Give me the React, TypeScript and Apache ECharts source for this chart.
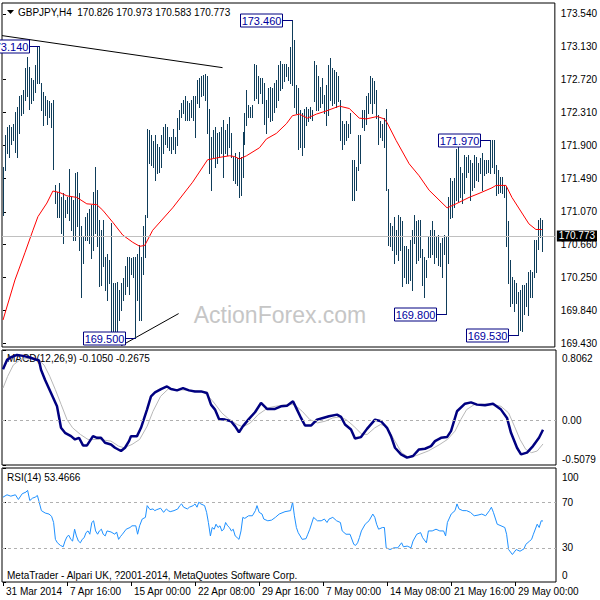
import { useEffect, useRef } from 'react';
import * as echarts from 'echarts';

const FONT = '"Liberation Sans", Arial, sans-serif';

const titleText = 'GBPJPY,H4  170.826 170.973 170.583 170.773';
const macdText = 'MACD(12,26,9) -0.1050 -0.2675';
const rsiText = 'RSI(14) 53.4666';
const footText = 'MetaTrader - Alpari UK, ?2001-2014, MetaQuotes Software Corp.';
const watermark = 'ActionForex.com';
const lastPrice = 170.773;

const barHigh = [
  171.63, 172.03, 172.13, 172.15, 172.13, 172.17, 172.32, 172.38, 172.51, 172.53,
  172.59, 172.86, 173.00, 172.88, 172.74, 172.72, 172.90, 173.14, 173.14, 172.68,
  172.57, 172.51, 172.47, 172.45, 172.43, 172.47, 171.41, 171.32, 171.43, 171.26,
  171.30, 171.22, 171.26, 171.61, 171.26, 171.22, 171.55, 171.57, 171.30, 170.89,
  170.76, 171.01, 171.05, 171.11, 171.16, 171.32, 171.63, 171.34, 170.97, 170.84,
  170.97, 170.51, 170.55, 170.47, 170.93, 170.18, 170.18, 170.20, 170.09, 170.18,
  170.24, 170.39, 170.51, 170.51, 170.49, 170.51, 170.51, 170.55, 170.66, 170.51,
  170.89, 171.03, 172.11, 172.09, 172.03, 171.95, 172.03, 171.92, 171.88, 172.03,
  172.13, 172.17, 172.13, 172.01, 172.01, 172.11, 172.01, 172.24, 172.34, 172.43,
  172.47, 172.51, 172.45, 172.43, 172.47, 172.51, 172.51, 172.72, 172.74, 172.76,
  172.78, 172.79, 172.76, 172.36, 172.01, 172.09, 172.13, 172.05, 172.07, 172.13,
  172.22, 172.09, 172.17, 172.26, 172.05, 171.76, 171.80, 171.74, 171.82, 171.76,
  172.07, 172.30, 172.59, 172.40, 172.38, 172.40, 172.92, 172.90, 172.76, 172.74,
  172.74, 172.68, 172.47, 172.61, 172.63, 172.61, 172.68, 172.72, 172.90, 172.95,
  172.92, 172.92, 172.92, 172.88, 173.13, 173.46, 173.22, 172.65, 172.61, 172.34,
  172.30, 172.36, 172.38, 172.36, 172.38, 172.34, 172.95, 172.90, 172.76, 172.63,
  172.74, 172.53, 172.65, 172.90, 172.99, 172.86, 172.84, 172.82, 172.76, 172.47,
  172.20, 172.17, 172.20, 172.17, 172.30, 171.72, 171.72, 171.63, 172.03, 172.03,
  172.34, 172.34, 172.51, 172.55, 172.76, 172.74, 172.70, 172.59, 172.28, 172.20,
  172.17, 172.24, 172.36, 171.36, 170.93, 170.89, 171.01, 170.84, 171.03, 171.01,
  170.95, 170.64, 170.64, 170.61, 170.72, 170.84, 171.03, 170.95, 170.97, 170.97,
  170.61, 170.51, 170.47, 170.76, 170.84, 170.95, 170.84, 170.76, 170.78, 170.68,
  170.74, 170.78, 170.76, 171.26, 171.49, 171.45, 171.49, 171.86, 171.88, 171.63,
  171.55, 171.78, 171.76, 171.78, 171.72, 171.68, 171.78, 171.76, 171.68, 171.74,
  171.80, 171.72, 171.72, 171.72, 171.97, 171.97, 171.97, 171.66, 171.59, 171.51,
  171.51, 171.41, 171.38, 170.95, 170.47, 170.26, 170.22, 170.18, 170.07, 170.09,
  170.16, 170.16, 170.18, 170.32, 170.34, 170.32, 170.72, 170.72, 170.97, 170.99,
  170.973,
];

const barLow = [
  171.03, 171.59, 171.80, 171.76, 171.92, 171.97, 171.82, 171.76, 172.05, 172.28,
  172.30, 172.47, 172.51, 172.36, 172.43, 172.47, 172.57, 172.68, 172.68, 172.34,
  172.15, 172.28, 172.17, 172.26, 172.13, 171.61, 171.18, 171.01, 171.01, 170.80,
  170.68, 171.01, 171.05, 170.97, 170.84, 170.72, 170.72, 170.89, 170.59, 170.01,
  170.43, 170.72, 170.72, 170.68, 170.49, 170.59, 170.80, 170.64, 170.14, 170.16,
  170.39, 170.09, 169.97, 170.18, 169.56, 169.55, 169.56, 169.57, 169.72, 169.85,
  169.97, 170.05, 170.14, 170.05, 170.30, 170.26, 169.50, 169.97, 169.72, 169.72,
  170.30, 170.51, 171.01, 171.68, 171.66, 171.63, 171.47, 171.55, 171.57, 171.63,
  171.80, 171.92, 171.88, 171.84, 171.80, 171.86, 171.80, 171.90, 172.11, 172.26,
  172.30, 172.22, 172.22, 172.22, 172.26, 172.22, 172.01, 172.43, 172.38, 172.51,
  172.53, 172.47, 172.05, 171.55, 171.34, 171.76, 171.63, 171.68, 171.76, 171.80,
  171.51, 171.80, 171.78, 171.88, 171.76, 171.47, 171.43, 171.41, 171.26, 171.28,
  171.51, 171.92, 172.15, 172.26, 172.26, 172.26, 172.47, 172.49, 172.43, 172.55,
  172.43, 172.17, 172.05, 172.26, 172.20, 172.22, 172.32, 172.38, 172.47, 172.59,
  172.61, 172.70, 172.76, 172.72, 172.68, 172.65, 172.38, 172.30, 171.86, 171.88,
  171.78, 171.88, 172.15, 172.20, 172.24, 172.22, 172.45, 172.34, 172.34, 172.38,
  172.43, 172.30, 172.15, 172.28, 172.47, 172.40, 172.43, 172.38, 172.45, 171.97,
  171.86, 171.92, 171.97, 172.01, 172.05, 171.22, 171.22, 171.34, 171.59, 171.68,
  172.13, 172.09, 172.17, 172.30, 172.43, 172.30, 172.43, 172.24, 171.92, 172.01,
  171.97, 171.88, 171.34, 170.66, 170.64, 170.59, 170.43, 170.55, 170.47, 170.59,
  170.14, 170.26, 170.18, 170.18, 170.22, 170.09, 170.68, 170.43, 170.47, 170.51,
  170.16, 170.01, 170.26, 170.51, 170.51, 170.55, 170.43, 170.51, 170.41, 170.39,
  170.26, 170.55, 169.80, 170.43, 170.99, 171.01, 171.13, 171.22, 171.20, 171.26,
  171.18, 171.30, 171.51, 171.57, 171.22, 171.34, 171.38, 171.47, 171.45, 171.55,
  171.34, 171.53, 171.55, 171.57, 171.55, 171.63, 171.55, 171.28, 171.30, 171.32,
  171.30, 171.26, 170.64, 170.18, 169.89, 169.93, 169.83, 169.93, 169.53, 169.60,
  169.58, 169.80, 169.89, 169.78, 170.01, 170.01, 170.26, 170.32, 170.61, 170.76,
  170.583,
];

const maIdx = [0, 6, 11, 15, 17.5, 22, 25, 28.5, 32, 37, 42, 47, 50, 55, 60, 65, 68.5, 71, 75, 85,
  95, 102.5, 108.5, 113.5, 116, 118.5, 122, 128.5, 132, 137, 142, 145, 148.5, 152.5, 157, 162, 168.5,
  173.5, 178.5, 182, 187.5, 191, 192.5, 197, 203.5, 208.5, 213.5, 222.5, 227, 233.5, 238.5, 245, 247,
  252, 255, 263.5, 267, 270];
const maVal = [169.72, 170.22, 170.56, 170.84, 171.01, 171.18, 171.33, 171.31, 171.27, 171.25, 171.17,
  171.16, 171.09, 170.94, 170.78, 170.69, 170.64, 170.65, 170.84, 171.12, 171.44, 171.72, 171.75,
  171.77, 171.76, 171.73, 171.77, 171.87, 171.98, 172.05, 172.17, 172.27, 172.29, 172.24, 172.29,
  172.33, 172.39, 172.36, 172.24, 172.23, 172.26, 172.23, 172.18, 171.96, 171.67, 171.52, 171.34,
  171.12, 171.17, 171.25, 171.30, 171.37, 171.40, 171.40, 171.25, 170.92, 170.85, 170.85];

const macdIdx = [0, 2, 4, 7, 10, 13, 16, 18, 19, 21, 24, 27, 29, 31, 34, 36, 38, 40, 42, 45,
  47, 49, 51, 54, 56, 59, 61, 63, 64, 67, 69, 72, 74, 76, 79, 82, 84, 87, 90, 93,
  96, 99, 102, 104, 106, 108, 111, 114, 116, 118, 120, 123, 126, 129, 132, 136, 139, 142, 145, 147,
  149, 151, 154, 157, 160, 163, 167, 169, 171, 174, 176, 179, 182, 186, 189, 192, 194, 196, 199, 202,
  205, 208, 211, 214, 216, 219, 222, 224, 227, 231, 234, 237, 241, 245, 249, 252, 254, 257, 259, 262,
  265, 268, 270];
const macdVal = [0.587, 0.693, 0.723, 0.750, 0.739, 0.723, 0.701, 0.686, 0.580, 0.466,
  0.314, 0.163, -0.083, -0.140, -0.178, -0.216, -0.197, -0.284, -0.284, -0.178,
  -0.197, -0.197, -0.254, -0.273, -0.311, -0.348, -0.311, -0.235, -0.178, -0.178,
  -0.083, 0.125, 0.277, 0.322, 0.360, 0.390, 0.360, 0.345, 0.371, 0.345,
  0.333, 0.333, 0.314, 0.182, 0.125, 0.019, 0.011, -0.008, -0.064, -0.133,
  -0.064, 0.019, 0.095, 0.201, 0.133, 0.133, 0.163, 0.170, 0.220, 0.125,
  0.030, -0.057, -0.057, 0.011, 0.030, 0.049, 0.068, 0.042, -0.045, -0.102,
  -0.205, -0.189, -0.095, 0.011, -0.008, -0.083, -0.178, -0.311, -0.386, -0.424,
  -0.405, -0.330, -0.322, -0.292, -0.235, -0.197, -0.189, -0.121, 0.106, 0.193,
  0.208, 0.182, 0.174, 0.193, 0.125, 0.030, -0.140, -0.311, -0.386, -0.367,
  -0.292, -0.197, -0.105];

const sigIdx = [0, 2.3, 5.2, 9, 13.8, 17.6, 20.5, 23.4, 26.2, 29.1,
  32, 34.8, 38.7, 42.5, 48.2, 54, 57.8, 60.6, 64.5, 68.3,
  72.1, 75, 78.8, 82.6, 88.4, 94.1, 99.8, 102.7, 105.6, 109.4,
  113.2, 117.1, 119.9, 123.7, 127.6, 132.4, 136.2, 141.9, 145.7, 149.6,
  153.4, 157.2, 161, 164.9, 168.7, 171.5, 175.4, 179.2, 182.1, 185.9,
  188.8, 191.6, 195.5, 199.3, 203.1, 206.9, 212.6, 218.4, 222.2, 226,
  228.9, 231.8, 235.6, 241.3, 245.2, 249, 252.8, 255.7, 258.5, 261.4,
  264.3, 267.1, 270];
const sigVal = [0.371, 0.504, 0.636, 0.701, 0.712, 0.693, 0.636, 0.504, 0.352, 0.182,
  0.011, -0.083, -0.159, -0.216, -0.216, -0.235, -0.292, -0.311, -0.273, -0.216,
  -0.064, 0.106, 0.277, 0.360, 0.352, 0.345, 0.333, 0.277, 0.201, 0.087,
  0.011, -0.045, -0.072, -0.027, 0.068, 0.144, 0.163, 0.182, 0.182, 0.106,
  0.011, -0.027, -0.008, 0.030, 0.042, 0.011, -0.064, -0.152, -0.159, -0.083,
  -0.045, -0.064, -0.216, -0.367, -0.424, -0.398, -0.348, -0.273, -0.216, -0.121,
  0.011, 0.125, 0.182, 0.189, 0.182, 0.163, 0.087, -0.064, -0.216, -0.330,
  -0.367, -0.348, -0.2675];

const rsiIdx = [0.0, 2.0, 3.9, 6.2, 7.7, 9.6, 11.5, 12.3, 13.4, 14.8,
  16.1, 17.2, 18.0, 19.2, 21.1, 23.0, 24.3, 25.3, 26.2, 27.2,
  28.7, 30.1, 31.0, 32.0, 32.9, 33.9, 34.8, 35.8, 36.7, 37.7,
  38.7, 39.6, 40.6, 41.5, 42.5, 43.4, 44.4, 45.3, 46.3, 47.3,
  48.2, 49.2, 50.1, 51.1, 52.0, 54.0, 55.9, 56.8, 57.8, 58.7,
  59.7, 61.6, 63.5, 64.5, 66.4, 67.3, 68.3, 69.6, 71.2, 72.1,
  73.5, 75.0, 75.9, 76.9, 78.8, 80.3, 81.7, 82.6, 83.6, 85.5,
  87.4, 88.4, 89.3, 90.3, 92.2, 93.2, 95.1, 96.0, 97.0, 97.9,
  98.9, 100.8, 101.8, 102.7, 103.7, 104.6, 105.6, 106.5, 107.5, 108.5,
  109.4, 110.4, 111.3, 112.3, 113.2, 114.2, 115.1, 116.1, 117.1, 118.0,
  119.0, 119.9, 120.9, 122.8, 124.7, 126.2, 127.0, 128.1, 129.5, 130.4,
  132.4, 134.3, 136.2, 138.1, 141.0, 143.8, 144.8, 145.7, 146.7, 147.6,
  149.6, 151.5, 152.4, 153.4, 155.3, 157.2, 159.1, 160.7, 162.0, 163.0,
  164.9, 166.8, 168.7, 169.6, 171.5, 173.5, 175.4, 176.3, 177.3, 178.2,
  179.2, 181.1, 183.0, 184.9, 185.9, 186.8, 187.8, 189.7, 190.7, 191.6,
  193.5, 195.5, 197.4, 199.3, 200.2, 202.1, 204.0, 205.0, 206.9, 208.8,
  209.8, 211.7, 212.7, 214.6, 216.5, 218.4, 220.3, 221.3, 222.2, 224.1,
  226.0, 227.0, 228.0, 229.9, 231.8, 233.7, 235.6, 237.5, 239.4, 241.3,
  243.2, 244.2, 245.2, 247.1, 249.0, 250.9, 251.8, 252.8, 254.7, 256.6,
  258.5, 260.5, 261.4, 263.3, 264.3, 265.2, 267.1, 268.1, 269.1, 270.0];
const rsiVal = [74.4, 76.5, 75.3, 76.5, 72.4, 77.4, 78.9, 80.4, 71.5, 73.6,
  74.4, 75.9, 70.6, 62.6, 60.5, 59.6, 57.6, 52.2, 37.4, 34.4,
  32.1, 30.9, 35.9, 39.8, 41.0, 37.4, 35.9, 46.3, 40.4, 35.9,
  34.4, 37.4, 38.9, 43.3, 44.8, 41.9, 52.2, 53.7, 44.8, 41.9,
  44.8, 46.3, 41.9, 40.4, 44.8, 43.9, 41.9, 43.9, 37.4, 39.8,
  41.9, 46.3, 47.8, 49.3, 49.3, 41.9, 49.3, 55.2, 56.7, 67.0,
  63.5, 64.1, 62.6, 63.5, 64.7, 61.1, 64.1, 62.6, 61.7, 62.6,
  64.1, 67.0, 68.5, 65.6, 64.1, 65.6, 67.0, 68.5, 65.6, 70.0,
  68.5, 67.0, 61.1, 52.2, 40.4, 47.8, 46.3, 50.7, 47.8, 49.3,
  44.8, 46.3, 52.2, 49.3, 47.8, 44.8, 46.3, 40.4, 38.9, 37.4,
  44.8, 56.7, 55.8, 58.1, 58.1, 62.6, 67.0, 61.1, 59.6, 55.2,
  53.7, 54.3, 56.7, 59.6, 61.7, 62.6, 70.0, 58.1, 47.8, 43.3,
  37.4, 38.0, 41.9, 46.3, 56.7, 53.7, 53.7, 55.2, 52.2, 55.2,
  56.7, 53.7, 52.2, 44.8, 41.9, 41.9, 33.0, 32.1, 34.4, 38.9,
  44.8, 50.7, 53.7, 59.6, 56.7, 50.7, 46.3, 47.8, 47.8, 30.0,
  28.5, 30.0, 30.0, 34.4, 30.9, 31.5, 30.0, 35.9, 41.9, 43.3,
  38.9, 34.4, 44.8, 44.8, 46.3, 44.8, 44.8, 40.4, 52.2, 59.6,
  62.6, 68.5, 64.1, 62.6, 62.6, 61.1, 58.1, 58.7, 59.6, 58.1,
  62.6, 65.6, 61.1, 50.7, 49.3, 47.8, 41.9, 28.5, 24.1, 28.5,
  27.0, 29.1, 33.0, 35.9, 37.4, 41.9, 50.7, 47.8, 53.7, 53.5];

const priceTicks = [173.54, 173.13, 172.72, 172.31, 171.9, 171.49, 171.07, 170.66, 170.25, 169.84, 169.43];
const macdTicks = [0.8062, 0, -0.5079];
const rsiTicks = [100, 70, 30, 0];
const rsiLevels = [70, 30];
const dateIdx = [0, 32, 64, 96, 128, 160, 192, 224, 256];
const dateLabels = ['31 Mar 2014', '7 Apr 16:00', '15 Apr 00:00', '22 Apr 08:00', '29 Apr 16:00',
  '7 May 00:00', '14 May 08:00', '21 May 16:00', '29 May 00:00'];

const annIdx = [18, 145, 66, 222, 244, 258];
const annPrice = [173.14, 173.46, 169.5, 169.8, 171.97, 169.53];

const upperTrend = [[-0.5, 173.27], [110, 172.87]];
const lowerTrend = [[59.3, 169.4], [88, 169.8]];

const zip = (xs: number[], ys: number[]) => xs.slice(0, Math.min(xs.length, ys.length)).map((x, k) => [x, ys[k]]);

export default function App() {
  const ref = useRef<HTMLDivElement>(null);
  useEffect(() => {
    if (!ref.current) return;
    const chart = echarts.init(ref.current, null, { renderer: 'svg' });
    const bars = barHigh.map((h, i) => [i, h, barLow[i]]);
    const xBase = {
      type: 'value', min: -0.5, max: 276.5,
      splitLine: { show: false }, axisLine: { show: false },
      axisTick: { show: false }, axisLabel: { show: false },
    };
    const yCommon = {
      type: 'value', position: 'right', splitLine: { show: false }, axisLine: { show: false },
    };
    const lblStyle = { color: '#000', fontSize: 10, fontFamily: FONT };
    const option: any = {
      animation: false,
      backgroundColor: '#fff',
      grid: [
        { left: 2, top: 3, width: 554, height: 344, show: true, borderColor: '#000', borderWidth: 1, backgroundColor: 'transparent' },
        { left: 2, top: 350, width: 554, height: 115, show: true, borderColor: '#000', borderWidth: 1, backgroundColor: 'transparent' },
        { left: 2, top: 468, width: 554, height: 114, show: true, borderColor: '#000', borderWidth: 1, backgroundColor: 'transparent' },
      ],
      xAxis: [
        { ...xBase, gridIndex: 0 },
        { ...xBase, gridIndex: 1 },
        {
          ...xBase, gridIndex: 2,
          axisTick: { show: true, customValues: dateIdx, length: 4, lineStyle: { color: '#000' } },
          axisLabel: {
            show: true, customValues: dateIdx, align: 'left', margin: 4, padding: [0, 0, 0, 3], ...lblStyle,
            formatter: (v: number) => dateLabels[dateIdx.indexOf(Math.round(v))] ?? '',
          },
        },
      ],
      yAxis: [
        {
          ...yCommon, gridIndex: 0, min: 169.383, max: 173.677,
          axisTick: { show: true, customValues: priceTicks, length: 3, lineStyle: { color: '#000' } },
          axisLabel: { customValues: priceTicks, margin: 6, ...lblStyle, formatter: (v: number) => v.toFixed(3) },
        },
        {
          ...yCommon, gridIndex: 1, min: -0.5079, max: 0.8062,
          axisTick: { show: true, customValues: macdTicks, length: 3, lineStyle: { color: '#000' } },
          axisLabel: {
            customValues: macdTicks, margin: 6, ...lblStyle,
            formatter: (v: number) => v > 0.5 ? `{t|${v.toFixed(4)}}` : v < -0.3 ? `{b|${v.toFixed(4)}}` : '0.00',
            rich: {
              t: { padding: [16, 0, 0, 0], fontSize: 10, color: '#000', fontFamily: FONT },
              b: { padding: [0, 0, 12, 0], fontSize: 10, color: '#000', fontFamily: FONT },
            },
          },
        },
        {
          ...yCommon, gridIndex: 2, min: 0, max: 100,
          axisTick: { show: true, customValues: rsiTicks, length: 3, lineStyle: { color: '#000' } },
          axisLabel: {
            customValues: rsiTicks, margin: 6, ...lblStyle,
            formatter: (v: number) => v === 100 ? '{t|100}' : v === 0 ? '{b|0}' : String(v),
            rich: {
              t: { padding: [18, 0, 0, 0], fontSize: 10, color: '#000', fontFamily: FONT },
              b: { padding: [0, 0, 14, 0], fontSize: 10, color: '#000', fontFamily: FONT },
            },
          },
        },
      ],
      series: [
        {
          type: 'line', xAxisIndex: 0, yAxisIndex: 0, z: 1, data: lowerTrend, showSymbol: false, silent: true,
          lineStyle: { color: '#000', width: 1 },
          markLine: {
            silent: true, symbol: ['none', 'none'], data: [{ yAxis: lastPrice }],
            lineStyle: { color: '#c0c0c0', type: 'solid', width: 1 },
            label: {
              show: true, position: 'end', distance: 2, formatter: () => lastPrice.toFixed(3),
              backgroundColor: '#000', color: '#fff', fontSize: 10, fontFamily: FONT, padding: [1, 2, 0, 2],
            },
          },
        },
        {
          type: 'line', xAxisIndex: 0, yAxisIndex: 0, z: 1, data: upperTrend, showSymbol: false, silent: true,
          lineStyle: { color: '#000', width: 1 },
        },
        {
          type: 'custom', xAxisIndex: 0, yAxisIndex: 0, z: 2, data: bars, clip: true,
          encode: { x: 0, y: [1, 2] },
          renderItem: (_p: any, api: any) => {
            const i = api.value(0);
            const top = api.coord([i, api.value(1)]);
            const bot = api.coord([i, api.value(2)]);
            const px = Math.round(top[0]) + 0.5;
            return {
              type: 'line',
              shape: { x1: px, y1: Math.round(top[1]), x2: px, y2: Math.round(bot[1]) + 1 },
              style: { stroke: '#0f3d5a', lineWidth: 1 },
            };
          },
        },
        {
          type: 'line', xAxisIndex: 0, yAxisIndex: 0, z: 3, data: zip(maIdx, maVal), showSymbol: false, silent: true,
          lineStyle: { color: '#ff0000', width: 1 },
        },
        {
          type: 'custom', xAxisIndex: 0, yAxisIndex: 0, z: 5, clip: false,
          data: zip(annIdx, annPrice),
          renderItem: (_p: any, api: any) => {
            const c = api.coord([api.value(0), api.value(1)]);
            const bx = Math.round(c[0]) + 0.5;
            const y = Math.round(c[1]) + 0.5;
            const w = 42, h = 13;
            const right = bx - 10;
            const left = right - w;
            return {
              type: 'group',
              children: [
                { type: 'line', shape: { x1: right, y1: y, x2: bx, y2: y }, style: { stroke: '#000080', lineWidth: 1 } },
                { type: 'rect', shape: { x: left, y: y - 6.5, width: w, height: h }, style: { fill: '#fff', stroke: '#000080', lineWidth: 1 } },
                {
                  type: 'text', x: left + w / 2, y: y + 0.5,
                  style: {
                    text: api.value(1).toFixed(3), fill: '#0000a0', font: `11px ${FONT}`,
                    align: 'center', verticalAlign: 'middle', textAlign: 'center', textVerticalAlign: 'middle',
                  },
                },
              ],
            };
          },
        },
        {
          type: 'line', xAxisIndex: 1, yAxisIndex: 1, z: 2, data: zip(sigIdx, sigVal), showSymbol: false, silent: true,
          lineStyle: { color: '#b8b8b8', width: 1 },
          markLine: {
            silent: true, symbol: ['none', 'none'], data: [{ yAxis: 0 }], label: { show: false },
            lineStyle: { color: '#b0b0b0', type: [3, 3], width: 1 },
          },
        },
        {
          type: 'line', xAxisIndex: 1, yAxisIndex: 1, z: 3, data: zip(macdIdx, macdVal), showSymbol: false, silent: true,
          lineStyle: { color: '#000080', width: 2.5 },
        },
        {
          type: 'line', xAxisIndex: 2, yAxisIndex: 2, z: 3, data: zip(rsiIdx, rsiVal), showSymbol: false, silent: true,
          lineStyle: { color: '#1e90ff', width: 1 },
          markLine: {
            silent: true, symbol: ['none', 'none'], data: rsiLevels.map((v) => ({ yAxis: v })), label: { show: false },
            lineStyle: { color: '#b0b0b0', type: [3, 3], width: 1 },
          },
        },
      ],
      graphic: [
        { type: 'polygon', shape: { points: [[7, 10], [14, 10], [10.5, 14]] }, style: { fill: '#000' } },
        { type: 'text', x: 18, y: 12, style: { text: titleText, font: `10px ${FONT}`, fill: '#000', verticalAlign: 'middle', textVerticalAlign: 'middle' } },
        { type: 'text', x: 7, y: 358, style: { text: macdText, font: `10px ${FONT}`, fill: '#000', verticalAlign: 'middle', textVerticalAlign: 'middle' } },
        { type: 'text', x: 7, y: 477, style: { text: rsiText, font: `10px ${FONT}`, fill: '#000', verticalAlign: 'middle', textVerticalAlign: 'middle' } },
        { type: 'text', x: 7, y: 575, style: { text: footText, font: `10px ${FONT}`, fill: '#000', verticalAlign: 'middle', textVerticalAlign: 'middle' } },
        {
          type: 'text', x: 280, y: 315, z: -1,
          style: { text: watermark, font: `23px ${FONT}`, fill: '#c6c6c6', align: 'center', textAlign: 'center', verticalAlign: 'middle', textVerticalAlign: 'middle' },
        },
      ],
    };
    chart.setOption(option);
    return () => chart.dispose();
  }, []);
  return <div ref={ref} style={{ position: 'fixed', left: 0, top: 0, width: 600, height: 600, background: '#fff' }} />;
}
